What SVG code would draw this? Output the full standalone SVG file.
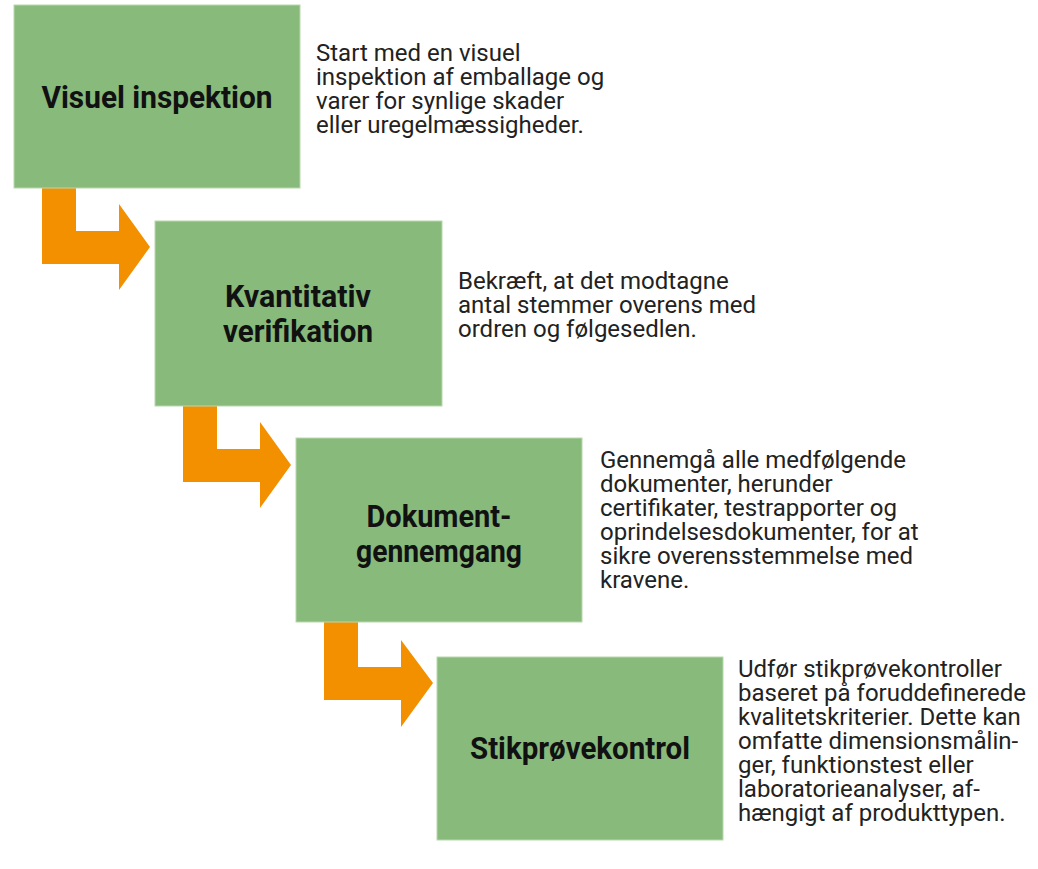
<svg xmlns="http://www.w3.org/2000/svg" width="1038" height="869" viewBox="0 0 1038 869">
  <style>
    .box { fill: #87BA7B; stroke: #B9D7AE; stroke-width: 1; }
    .title { font-family: Roboto, "Liberation Sans", sans-serif; font-weight: bold; font-size: 32px; fill: #111; text-anchor: middle; }
    .desc { font-family: Roboto, "Liberation Sans", sans-serif; font-size: 24px; fill: #222; }
    .flow { fill: #F39000; }
  </style>
  <rect width="1038" height="869" fill="#fff"/>

  <!-- elbow arrows between the steps -->
  <g id="connectors">
    <polygon class="flow" points="42,188 42,264 119,264 119,290 150,247 119,204 119,231 76,231 76,188"/>
    <polygon class="flow" points="183,406 183,482 260,482 260,508 291,465 260,422 260,449 217,449 217,406"/>
    <polygon class="flow" points="324,622 324,700 401,700 401,727 433,683 401,640 401,667 358,667 358,622"/>
  </g>

  <g id="step1">
    <rect class="box" x="14" y="5" width="286" height="183"/>
    <text class="title" x="157" y="108" textLength="231" lengthAdjust="spacingAndGlyphs">Visuel inspektion</text>
    <text class="desc">
      <tspan x="316" y="61">Start med en visuel</tspan>
      <tspan x="316" y="85">inspektion af emballage og</tspan>
      <tspan x="316" y="109">varer for synlige skader</tspan>
      <tspan x="316" y="133">eller uregelmæssigheder.</tspan>
    </text>
  </g>

  <g id="step2">
    <rect class="box" x="155" y="221" width="287" height="185"/>
    <text class="title" x="298" y="307" textLength="146" lengthAdjust="spacingAndGlyphs">Kvantitativ</text>
    <text class="title" x="298" y="342" textLength="150" lengthAdjust="spacingAndGlyphs">verifikation</text>
    <text class="desc">
      <tspan x="458" y="289">Bekræft, at det modtagne</tspan>
      <tspan x="458" y="313">antal stemmer overens med</tspan>
      <tspan x="458" y="337">ordren og følgesedlen.</tspan>
    </text>
  </g>

  <g id="step3">
    <rect class="box" x="296" y="438" width="286" height="184"/>
    <text class="title" x="439" y="527" textLength="145" lengthAdjust="spacingAndGlyphs">Dokument-</text>
    <text class="title" x="439" y="562" textLength="166" lengthAdjust="spacingAndGlyphs">gennemgang</text>
    <text class="desc">
      <tspan x="600" y="468">Gennemgå alle medfølgende</tspan>
      <tspan x="600" y="492">dokumenter, herunder</tspan>
      <tspan x="600" y="516">certifikater, testrapporter og</tspan>
      <tspan x="600" y="540">oprindelsesdokumenter, for at</tspan>
      <tspan x="600" y="564">sikre overensstemmelse med</tspan>
      <tspan x="600" y="588">kravene.</tspan>
    </text>
  </g>

  <g id="step4">
    <rect class="box" x="437" y="657" width="286" height="183"/>
    <text class="title" x="580" y="759" textLength="220" lengthAdjust="spacingAndGlyphs">Stikprøvekontrol</text>
    <text class="desc">
      <tspan x="738" y="677">Udfør stikprøvekontroller</tspan>
      <tspan x="738" y="701">baseret på foruddefinerede</tspan>
      <tspan x="738" y="725">kvalitetskriterier. Dette kan</tspan>
      <tspan x="738" y="749">omfatte dimensionsmålin-</tspan>
      <tspan x="738" y="773">ger, funktionstest eller</tspan>
      <tspan x="738" y="797">laboratorieanalyser, af-</tspan>
      <tspan x="738" y="821">hængigt af produkttypen.</tspan>
    </text>
  </g>
</svg>
